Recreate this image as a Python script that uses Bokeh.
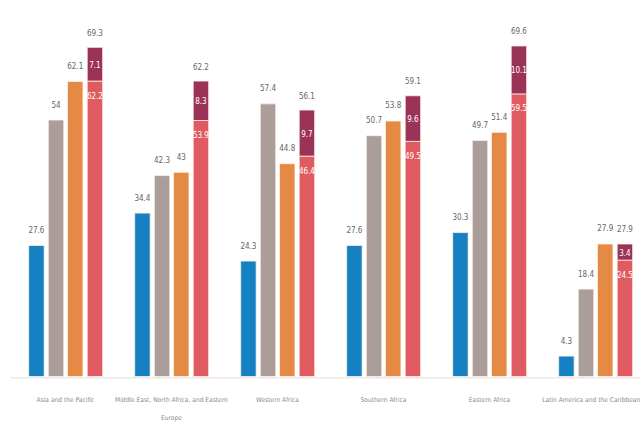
from bokeh.plotting import figure
from bokeh.models import ColumnDataSource, Range1d
from bokeh.core.properties import value
from bokeh.embed import file_html
from bokeh.resources import INLINE

regions = ["Asia and the Pacific",
           "Middle East, North Africa, and Eastern\nEurope",
           "Western Africa", "Southern Africa", "Eastern Africa",
           "Latin America and the Caribbean"]
series1 = [27.6, 34.4, 24.3, 27.6, 30.3, 4.3]
series2 = [54.0, 42.3, 57.4, 50.7, 49.7, 18.4]
series3 = [62.1, 43.0, 44.8, 53.8, 51.4, 27.9]
stack_low = [62.2, 53.9, 46.4, 49.5, 59.5, 24.5]
stack_high = [7.1, 8.3, 9.7, 9.6, 10.1, 3.4]
stack_total = [69.3, 62.2, 56.1, 59.1, 69.6, 27.9]

C_BLUE = "#1580c2"
C_GRAY = "#ab9d99"
C_ORANGE = "#e58a45"
C_RED = "#e05a62"
C_DARK = "#9b3358"
FONT = value("'DejaVu Sans Condensed', 'Liberation Sans Narrow', 'DejaVu Sans', sans-serif")

p = figure(width=640, height=428, output_backend="svg", toolbar_location=None,
           x_range=Range1d(-0.613, 5.425), y_range=Range1d(-10.95, 79.16),
           min_border_left=0, min_border_right=0, min_border_top=0, min_border_bottom=0)
p.axis.visible = False
p.grid.visible = False
p.outline_line_color = None
p.background_fill_color = "white"

xs = list(range(len(regions)))
offs = [-0.274, -0.089, 0.092, 0.278]
w = 0.146

# baseline
p.segment(x0=[-0.52], y0=[-0.3], x1=[5.43], y1=[-0.3], line_color="#eee4e4", line_width=1.2)

def fmt(v):
    s = f"{v:.1f}"
    return s[:-2] if s.endswith(".0") else s

for vals, col, off in [(series1, C_BLUE, offs[0]), (series2, C_GRAY, offs[1]), (series3, C_ORANGE, offs[2])]:
    src = ColumnDataSource(dict(x=[x + off for x in xs], top=vals, lab=[fmt(v) for v in vals]))
    p.vbar(x="x", top="top", bottom=0, width=w, source=src, fill_color=col,
           line_color="#fff3e6", line_width=0.8)
    p.text(x="x", y="top", text="lab", source=src, text_align="center", text_baseline="middle",
           y_offset=-16, text_font=FONT, text_font_size="8px", text_color="#666666")

sx = [x + offs[3] for x in xs]
src = ColumnDataSource(dict(x=sx, low=stack_low, high=[a + b for a, b in zip(stack_low, stack_high)],
                            mid=[a + b / 2 for a, b in zip(stack_low, stack_high)],
                            total=stack_total,
                            llow=[fmt(v) for v in stack_low], lhigh=[fmt(v) for v in stack_high],
                            ltot=[fmt(v) for v in stack_total]))
p.vbar(x="x", top="low", bottom=0, width=w, source=src, fill_color=C_RED, line_color="#fff3e6", line_width=0.8)
p.vbar(x="x", top="high", bottom="low", width=w, source=src, fill_color=C_DARK, line_color="#fff3e6", line_width=0.8)
p.text(x="x", y="high", text="ltot", source=src, text_align="center", text_baseline="middle",
       y_offset=-15, text_font=FONT, text_font_size="8px", text_color="#666666")
p.text(x="x", y="mid", text="lhigh", source=src, text_align="center", text_baseline="middle",
       text_font=FONT, text_font_size="8px", text_color="#ffffff")
p.text(x="x", y="low", text="llow", source=src, text_align="center", text_baseline="middle",
       y_offset=14, text_font=FONT, text_font_size="8px", text_color="#ffffff")

# category labels
lab_x = [float(x) for x in xs]
lab_x[-1] = lab_x[-1] - 0.04
csrc = ColumnDataSource(dict(x=lab_x, y=[-4.2] * len(xs), t=regions))
p.text(x="x", y="y", text="t", source=csrc, text_align="center", text_baseline="top",
       text_font=FONT, text_font_size="6.6px", text_color="#8a8a8a", text_line_height=2.2)

open("out.html", "w").write(file_html(p, INLINE))
